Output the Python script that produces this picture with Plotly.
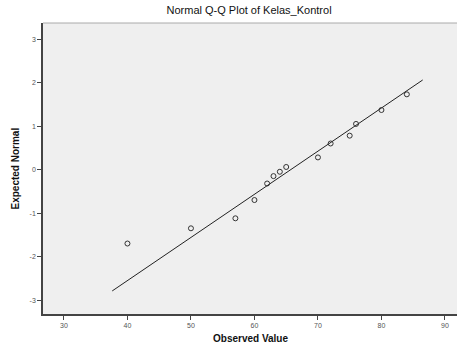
import plotly.graph_objects as go

observed = [40, 50, 57, 60, 62, 63, 64, 65, 70, 72, 75, 76, 80, 84]
expected = [-1.70, -1.35, -1.12, -0.70, -0.32, -0.15, -0.05, 0.06, 0.28, 0.60, 0.78, 1.05, 1.37, 1.73]

# Reference line endpoints
line_x = [37.6, 86.5]
line_y = [-2.79, 2.06]

x_ticks = [30, 40, 50, 60, 70, 80, 90]
y_ticks = [-3, -2, -1, 0, 1, 2, 3]

fig = go.Figure()
fig.add_trace(go.Scatter(x=line_x, y=line_y, mode="lines",
                         line=dict(color="#222222", width=1), showlegend=False))
fig.add_trace(go.Scatter(x=observed, y=expected, mode="markers",
                         marker=dict(symbol="circle-open", size=5,
                                     color="#333333", line=dict(width=1)),
                         showlegend=False))

fig.update_layout(
    width=457, height=347,
    margin=dict(l=43, r=0, t=23, b=33),
    paper_bgcolor="white",
    plot_bgcolor="#efefef",
    title=dict(text="Normal Q-Q Plot of Kelas_Kontrol", x=0.545, xanchor="center",
               y=0.97, yanchor="middle",
               font=dict(family="Arial, Liberation Sans", size=11, color="#111111")),
    font=dict(family="Arial, Liberation Sans"),
    xaxis=dict(range=[26.7, 91.9], tickvals=x_ticks, ticktext=[str(v) for v in x_ticks],
               showgrid=False, zeroline=False, showline=True, linecolor="#444444",
               linewidth=1.5, ticks="outside", ticklen=4, tickcolor="#444444",
               tickfont=dict(size=7, color="#555555")),
    yaxis=dict(range=[-3.32, 3.37], tickvals=y_ticks, ticktext=[str(v) for v in y_ticks],
               showgrid=False, zeroline=False, showline=True, linecolor="#444444",
               linewidth=1.5, ticks="outside", ticklen=4, tickcolor="#444444",
               tickfont=dict(size=7, color="#555555")),
    shapes=[dict(type="line", xref="paper", yref="paper", x0=0, x1=1, y0=1, y1=1,
                 line=dict(color="#aaaaaa", width=1))],
    annotations=[
        dict(text="<b>Observed Value</b>", xref="paper", yref="paper", x=0.5, y=0,
             xanchor="center", yanchor="middle", yshift=-24, showarrow=False,
             font=dict(size=10, color="#111111")),
        dict(text="<b>Expected Normal</b>", xref="paper", yref="paper", x=0, y=0.5,
             xanchor="center", yanchor="middle", xshift=-28, textangle=-90, showarrow=False,
             font=dict(size=10, color="#111111")),
    ],
)

fig.write_html("out.html", config={"displayModeBar": False},
               post_script="document.body.style.margin='0';document.body.style.overflow='hidden';")
